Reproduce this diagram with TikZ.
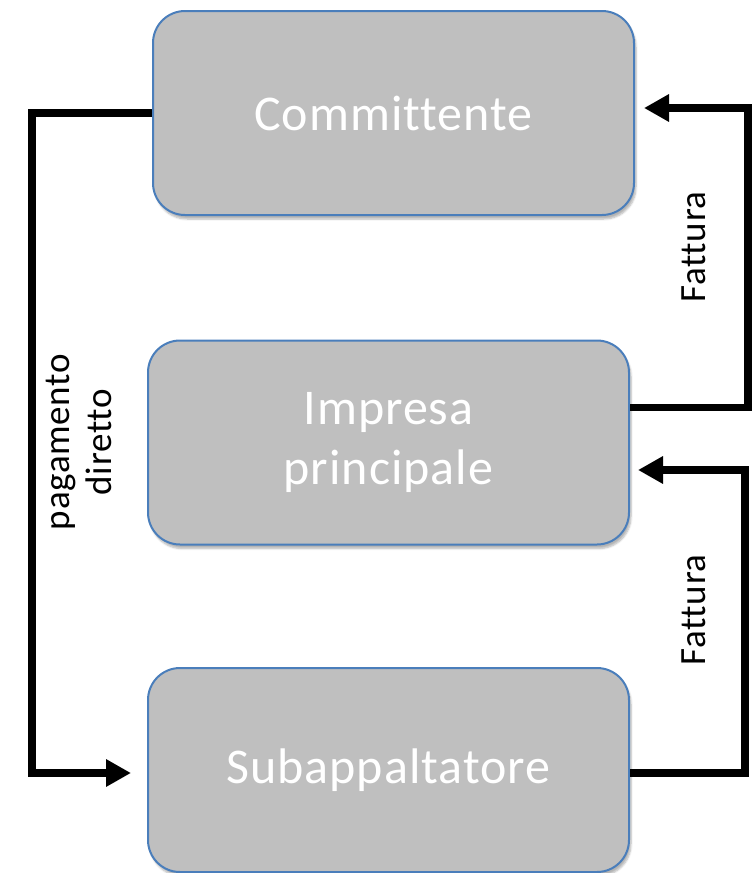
\documentclass[tikz,border=0pt]{standalone}
\usepackage{fontspec}
\setmainfont[Ligatures=NoCommon,LetterSpace=2]{Carlito}
\usetikzlibrary{arrows.meta,shadows.blur}
\definecolor{boxfill}{HTML}{BFBFBF}
\definecolor{boxline}{HTML}{4A7EBB}
\tikzset{
  box/.style={draw=boxline, line width=2pt, fill=boxfill, rounded corners=32pt,
    minimum width=481pt, minimum height=204pt, inner sep=0pt, text=white,
    align=center, font=\fontsize{50}{60}\selectfont,
    blur shadow={shadow blur steps=6, shadow xshift=2pt, shadow yshift=-4pt, shadow opacity=30}},
  conn/.style={line width=7.5pt, draw=black, -{Triangle[length=25pt,width=26pt]}},
  lbl/.style={rotate=90, align=center, font=\fontsize{37}{42}\selectfont, inner sep=0pt}
}
\begin{document}
\begin{tikzpicture}[x=1pt,y=-1pt]
\useasboundingbox (0,0) rectangle (755,873);
\node[box] (com) at (393.5,113) {Committente};
\node[box] (imp) at (388.5,442.5) {Impresa\\principale};
\node[box] (sub) at (388.5,770) {Subappaltatore};
% left connector
\coordinate (lt) at (32,113);
\coordinate (lb) at (32,773);
\coordinate (subtip) at ([xshift=-16pt,yshift=-3pt]sub.west);
\draw[conn] (com.west) -- (lt) -- (lb) -- (subtip);
% right top connector
\coordinate (rtb) at (748,407.5);
\coordinate (rtt) at (748,108);
\coordinate (comtip) at ([xshift=9pt,yshift=5pt]com.east);
\draw[conn] ([yshift=35pt]imp.east) -- (rtb) -- (rtt) -- (comtip);
% right bottom connector
\coordinate (rbb) at (745,773);
\coordinate (rbt) at (745,470);
\coordinate (imptip) at ([xshift=8pt,yshift=-27.5pt]imp.east);
\draw[conn] ([yshift=-3pt]sub.east) -- (rbb) -- (rbt) -- (imptip);
% labels
\node[lbl] (f1) at (694,247) {Fattura};
\node[lbl] (f2) at (694,610) {Fattura};
\node[lbl] (pd) at (79,442) {pagamento\\diretto};
\end{tikzpicture}
\end{document}
